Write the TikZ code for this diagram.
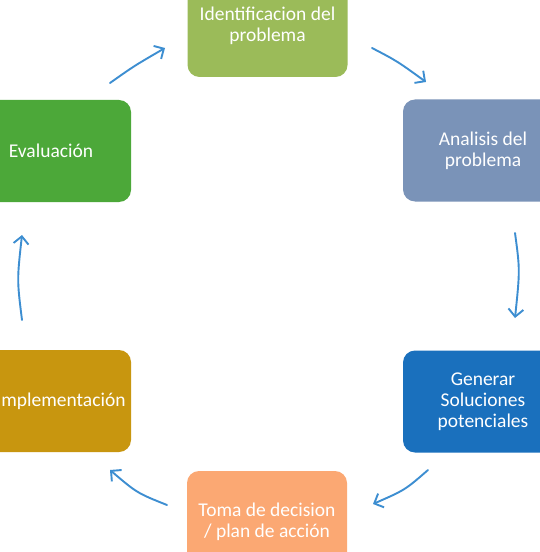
\documentclass[tikz,border=0pt]{standalone}
\usepackage{fontspec}
\setmainfont{Carlito}
\usetikzlibrary{arrows.meta}
\definecolor{cTop}{HTML}{9BBB59}
\definecolor{cEval}{HTML}{4CA839}
\definecolor{cAna}{HTML}{7A93B8}
\definecolor{cGen}{HTML}{1A70BD}
\definecolor{cImp}{HTML}{C8960F}
\definecolor{cToma}{HTML}{FBA873}
\definecolor{cArrow}{HTML}{3D8ED1}
\tikzset{
  stagebox/.style={rounded corners=12bp, minimum width=160bp, minimum height=102bp,
    inner sep=0pt, text=white, align=center,
    font=\fontsize{19.5bp}{21bp}\selectfont},
  stagetext/.style={inner sep=0pt, text=white, align=center,
    font=\fontsize{19.5bp}{21bp}\selectfont},
  cyclearrow/.style={draw=cArrow, line width=1.9bp, line cap=round,
    -{Straight Barb[length=7.5bp,width=15bp,line width=1.9bp]}}
}
\begin{document}
\begin{tikzpicture}[x=1bp,y=-1bp]
\useasboundingbox (0,0) rectangle (540,552);
\clip (0,0) rectangle (540,552);
\fill[white] (0,0) rectangle (540,552);
% boxes
\node[stagebox, fill=cTop] (ident) at (267.5,26) {Identificacion del\\problema};
\node[stagebox, fill=cAna] (anal) at (483,150.5) {Analisis del\\problema};
\node[stagebox, fill=cGen] (gen) at (483,401.5) {Generar\\Soluciones\\potenciales};
\node[stagebox, fill=cToma] (toma) at (267,522) {Toma de decision\\/ plan de acción};
\node[stagebox, fill=cImp] (impl) at (51,401) {};
\node[stagetext] (impltext) at (61,401) {Implementación};
\node[stagebox, fill=cEval] (eval) at (51,151) {Evaluación};
% arrow end points
\coordinate (a1s) at (110,83);  \coordinate (a1e) at (165,48);
\coordinate (a2s) at (372,48);  \coordinate (a2e) at (426,82);
\coordinate (a3s) at (515,233); \coordinate (a3e) at (515,318);
\coordinate (a4s) at (428,470); \coordinate (a4e) at (373,504);
\coordinate (a5s) at (167,505); \coordinate (a5e) at (110,470);
\coordinate (a6s) at (22,320);  \coordinate (a6e) at (22,235);
\draw[cyclearrow] (a1s) .. controls (134,66) .. (a1e);
\draw[cyclearrow] (a2s) .. controls (397,61) .. (a2e);
\draw[cyclearrow] (a3s) .. controls (520,270) .. (a3e);
\draw[cyclearrow] (a4s) .. controls (405,490) .. (a4e);
\draw[cyclearrow] (a5s) .. controls (137,493) .. (a5e);
\draw[cyclearrow] (a6s) .. controls (17,280) .. (a6e);
\end{tikzpicture}
\end{document}
